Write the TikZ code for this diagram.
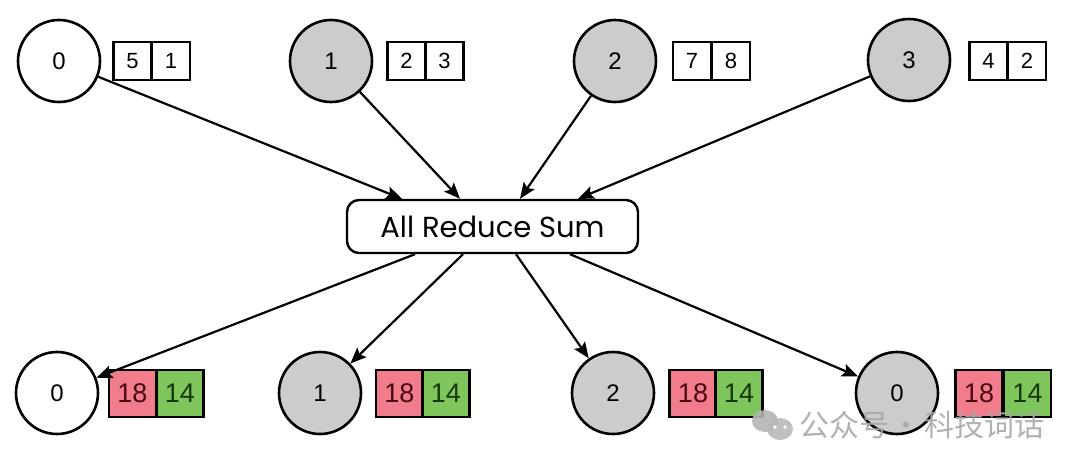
\documentclass[tikz,border=0pt]{standalone}
\usepackage{fontspec}
\setmainfont{Liberation Sans}
\newfontfamily\handfont{Poppins}
\newfontfamily\cjkfont{Noto Sans CJK SC}
\usetikzlibrary{arrows.meta,positioning}
\definecolor{gcirc}{HTML}{CCCCCC}
\definecolor{redcell}{HTML}{F07C8C}
\definecolor{greencell}{HTML}{7EC65C}
\definecolor{redtxt}{HTML}{4A0810}
\definecolor{greentxt}{HTML}{16380C}
\definecolor{wmark}{HTML}{A8A8A8}
\begin{document}
\begin{tikzpicture}[x=1pt,y=-1pt,
  proc/.style={circle, draw=black, line width=2.6pt, minimum size=82pt, inner sep=0pt,
    font=\fontsize{24}{24}\selectfont},
  pwhite/.style={proc, fill=white},
  pgray/.style={proc, fill=gcirc},
  cell/.style={draw=black, line width=2.3pt, minimum width=38pt, minimum height=38pt,
    inner sep=0pt, font=\fontsize{22}{22}\selectfont},
  bcell/.style={draw=black, line width=2.4pt, minimum width=47pt, minimum height=47pt,
    inner sep=0pt, font=\fontsize{27}{27}\selectfont},
  rcell/.style={bcell, fill=redcell, text=redtxt},
  gcell/.style={bcell, fill=greencell, text=greentxt},
  sumbox/.style={draw=black, line width=2.4pt, rounded corners=12pt, minimum width=291pt,
    minimum height=53pt, inner sep=0pt, font=\handfont\fontsize{29}{29}\selectfont},
  arr/.style={draw=black, line width=2.2pt, -{Stealth[length=16pt,width=13pt,inset=3pt]}}
]
\useasboundingbox (0,0) rectangle (1080,469);

% top row
\node[pwhite] (t0) at (59,61) {0};
\node[pgray]  (t1) at (331,61) {1};
\node[pgray]  (t2) at (615,61) {2};
\node[pgray]  (t3) at (909,60) {3};

\node[cell] (t0a) at (132.5,61) {5};
\node[cell] (t0b) at (171,61) {1};
\node[cell] (t1a) at (406.5,61) {2};
\node[cell] (t1b) at (444.5,61) {3};
\node[cell] (t2a) at (692,61) {7};
\node[cell] (t2b) at (731,61) {8};
\node[cell] (t3a) at (988.5,61) {4};
\node[cell] (t3b) at (1027,61) {2};

% middle
\node[sumbox] (sum) at (492.5,226.5) {All Reduce Sum};
\coordinate (i0) at ([xshift=-90.5pt]sum.north);
\coordinate (i1) at ([xshift=-32.5pt]sum.north);
\coordinate (i2) at ([xshift=27.5pt]sum.north);
\coordinate (i3) at ([xshift=85.5pt]sum.north);
\coordinate (o0) at ([xshift=-77.5pt]sum.south);
\coordinate (o1) at ([xshift=-29.5pt]sum.south);
\coordinate (o2) at ([xshift=23.5pt]sum.south);
\coordinate (o3) at ([xshift=77.5pt]sum.south);

% bottom row
\node[pwhite] (b0) at (57,393) {0};
\node[pgray]  (b1) at (320,393) {1};
\node[pgray]  (b2) at (613,393) {2};
\node[pgray]  (b3) at (897,393) {0};

\node[rcell] (b0a) at (132.5,393.5) {18};
\node[gcell] (b0b) at (180,393.5) {14};
\node[rcell] (b1a) at (399.5,393.5) {18};
\node[gcell] (b1b) at (446,393.5) {14};
\node[rcell] (b2a) at (693,393.5) {18};
\node[gcell] (b2b) at (739,393.5) {14};
\node[rcell] (b3a) at (979,393.5) {18};
\node[gcell] (b3b) at (1027.5,393.5) {14};

% connectors
\draw[arr] (t0) -- (i0);
\draw[arr] (t1) -- (i1);
\draw[arr] (t2) -- (i2);
\draw[arr] (t3) -- (i3);
\draw[arr] (o0) -- (b0);
\draw[arr] (o1) -- (b1);
\draw[arr] (o2) -- (b2);
\draw[arr] (o3) -- (b3);

% watermark
\fill[wmark!85, opacity=0.9] (765,421) ellipse (13pt and 11pt);
\fill[wmark!110!black, opacity=0.9] (780,429) ellipse (13pt and 11pt);
\fill[white] (775,427) circle (1.8pt);
\fill[white] (785,427) circle (1.8pt);
\node[text=wmark, opacity=0.9, font=\cjkfont\fontsize{30}{30}\selectfont, anchor=west, inner sep=0pt] (wm) at (799,425) {公众号\hspace{-4pt} · \hspace{-4pt}科技词话};
\end{tikzpicture}
\end{document}
